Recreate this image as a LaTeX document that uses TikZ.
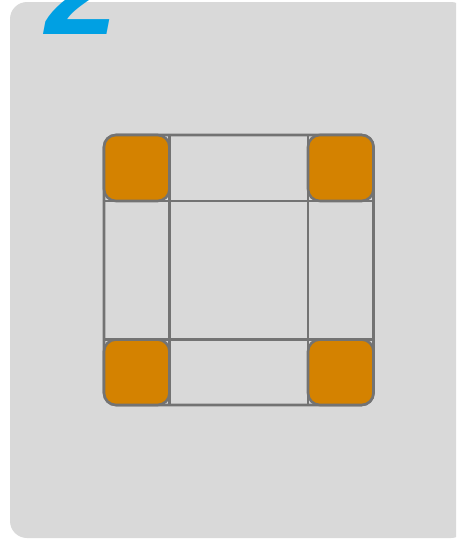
\documentclass[tikz,border=0pt]{standalone}
\usepackage{fontspec}
\setmainfont{Liberation Sans}
\definecolor{bgcol}{HTML}{D9D9D9}
\definecolor{linecol}{HTML}{737373}
\definecolor{boxcol}{HTML}{D48200}
\definecolor{numcol}{HTML}{00A0E3}
\tikzset{
  gridline/.style={draw=linecol, line width=2.6pt},
  cornerbox/.style={draw=linecol, fill=boxcol, line width=2.6pt, rounded corners=12pt},
}
\begin{document}
\begin{tikzpicture}[x=1pt, y=-1pt]
\useasboundingbox (0,0) rectangle (456,539);
\clip (0,0) rectangle (456,539);
\fill[bgcol, rounded corners=17pt] (10,2) rectangle (468,538);
\node[anchor=base west, inner sep=0pt, text=numcol, font=\fontsize{132}{132}\selectfont\bfseries\itshape] (num) at (45,34) {2};
% outer square and grid lines
\draw[gridline, rounded corners=12pt] (104,135) rectangle (373.5,405);
\coordinate (t1) at (169.5,135); \coordinate (b1) at (169.5,405);
\coordinate (t2) at (308,135); \coordinate (b2) at (308,405);
\coordinate (l1) at (104,201); \coordinate (r1) at (373.5,201);
\coordinate (l2) at (104,339.5); \coordinate (r2) at (373.5,339.5);
\draw[gridline] (t1) -- (b1);
\draw[gridline] (t2) -- (b2);
\draw[gridline] (l1) -- (r1);
\draw[gridline] (l2) -- (r2);
% corner boxes
\path[cornerbox] (104,135) rectangle (169.5,201);
\path[cornerbox] (308,135) rectangle (373.5,201);
\path[cornerbox] (104,339.5) rectangle (169.5,405);
\path[cornerbox] (308,339.5) rectangle (373.5,405);
\end{tikzpicture}
\end{document}
